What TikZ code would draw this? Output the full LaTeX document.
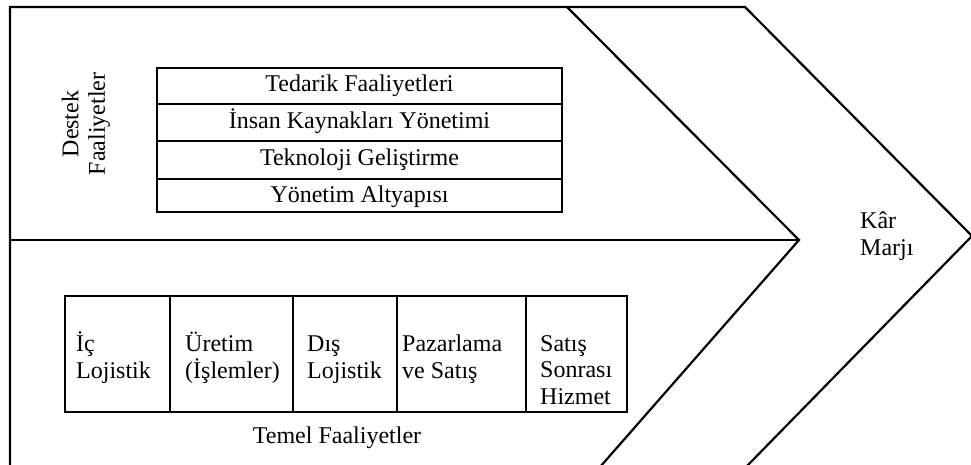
\documentclass[tikz,border=0pt]{standalone}
\usepackage{fontspec}
\setmainfont{Liberation Serif}
\begin{document}
\begin{tikzpicture}[x=1pt,y=-1pt,
  frame/.style={draw=black,line width=2.2pt,line join=miter},
  grid/.style={draw=black,line width=2.2pt},
  lbl/.style={inner sep=0pt,font=\fontsize{24}{26.5}\selectfont},
  lbll/.style={lbl,align=left,anchor=base west},
  lblc/.style={lbl,anchor=base}]
\useasboundingbox (0,0) rectangle (971,465);
% outer chevron frame
\coordinate (bl) at (10,467);
\coordinate (tl) at (10,7);
\coordinate (tr) at (745,7);
\coordinate (tip) at (972,236);
\coordinate (br) at (746,467);
\draw[frame] (bl) -- (tl) -- (tr) -- (tip) -- (br);
% inner chevron
\coordinate (it) at (567,7);
\coordinate (itip) at (799,240);
\coordinate (ib) at (600,467);
\coordinate (ml) at (10,240);
\draw[frame] (it) -- (itip) -- (ib);
\draw[frame] (ml) -- (itip);
% support table
\coordinate (s1) at (157,68);
\coordinate (s2) at (562,212);
\draw[grid] (s1) rectangle (s2);
\draw[grid] (157,104) -- (562,104);
\draw[grid] (157,141) -- (562,141);
\draw[grid] (157,179) -- (562,179);
\node[lblc] (ted) at (359.5,92) {Tedarik Faaliyetleri};
\node[lblc] (ins) at (359.5,129) {İnsan Kaynakları Yönetimi};
\node[lblc] (tek) at (359.5,166) {Teknoloji Geliştirme};
\node[lblc] (yon) at (359.5,202) {Yönetim Altyapısı};
\node[lbl,rotate=90,align=center] (destek) at (86,124) {Destek\\Faaliyetler};
% primary table
\coordinate (p1) at (65,296);
\coordinate (p2) at (627,412);
\draw[grid] (p1) rectangle (p2);
\draw[grid] (170,296) -- (170,412);
\draw[grid] (293,296) -- (293,412);
\draw[grid] (397,296) -- (397,412);
\draw[grid] (526,296) -- (526,412);
\node[lbll] (ic) at (76,378) {İç\\Lojistik};
\node[lbll] (ur) at (185,378) {Üretim\\(İşlemler)};
\node[lbll] (dis) at (307,378) {Dış\\Lojistik};
\node[lbll] (paz) at (402,378) {Pazarlama\\ve Satış};
\node[lbll] (sat) at (540,404) {Satış\\Sonrası\\Hizmet};
\node[lblc] (temel) at (337,443) {Temel Faaliyetler};
\node[lbll] (kar) at (860,255) {Kâr\\Marjı};
\end{tikzpicture}
\end{document}
